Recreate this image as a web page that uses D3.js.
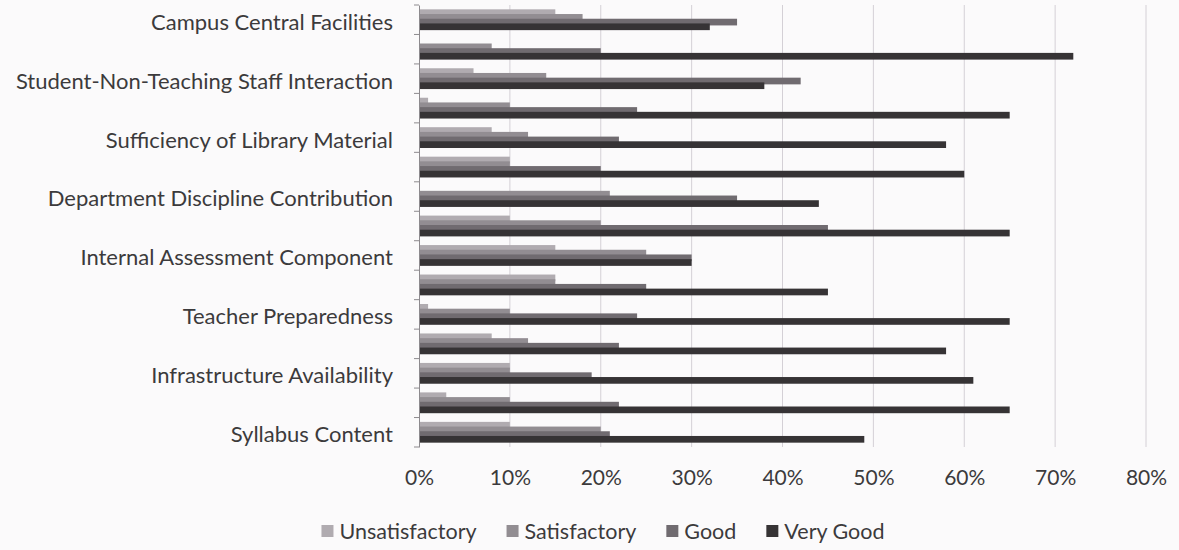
<!DOCTYPE html>
<html>
<head>
<meta charset="utf-8">
<script src="https://cdn.jsdelivr.net/npm/d3@7"></script>
<style>
  body { margin: 0; background: #fbfafb; }
  svg { display: block; }
  text { font-family: Lato, "Open Sans", sans-serif; fill: #3c3a3c; }
</style>
</head>
<body>
<div id="chart"></div>
<script>
// categories, top to bottom (only every other one gets a label, as in the source)
const categories = [
  "Campus Central Facilities", "cat2",
  "Student-Non-Teaching Staff Interaction", "cat4",
  "Sufficiency of Library Material", "cat6",
  "Department Discipline Contribution", "cat8",
  "Internal Assessment Component", "cat10",
  "Teacher Preparedness", "cat12",
  "Infrastructure Availability", "cat14",
  "Syllabus Content"
];
const labelled = [0, 2, 4, 6, 8, 10, 12, 14];

const seriesNames = ["Unsatisfactory", "Satisfactory", "Good", "Very Good"];

// percentages, same order as categories
const unsatisfactory = [15, 0, 6, 1, 8, 10, 0, 10, 15, 15, 1, 8, 10, 3, 10];
const satisfactory   = [18, 8, 14, 10, 12, 10, 21, 20, 25, 15, 10, 12, 10, 10, 20];
const good           = [35, 20, 42, 24, 22, 20, 35, 45, 30, 25, 24, 22, 19, 22, 21];
const veryGood       = [32, 72, 38, 65, 58, 60, 44, 65, 30, 45, 65, 58, 61, 65, 49];

const xTicks = [0, 0.1, 0.2, 0.3, 0.4, 0.5, 0.6, 0.7, 0.8];

const colors = ["#b0abb0", "#928d92", "#706b70", "#363335"];

const width = 1179, height = 550;
const margin = {top: 5, right: 33, bottom: 103, left: 419};

const svg = d3.select("#chart").append("svg")
  .attr("width", width)
  .attr("height", height);

const innerW = width - margin.left - margin.right;
const innerH = height - margin.top - margin.bottom;

const g = svg.append("g")
  .attr("transform", "translate(" + margin.left + "," + margin.top + ")");

const x = d3.scaleLinear().domain([0, 0.8]).range([0, innerW]);
const y = d3.scaleBand().domain(categories).range([0, innerH]);

// bars inside a group overlap like excel's series overlap
const barH = 6.7;
const sub = d3.scalePoint().domain(seriesNames).range([0, 14.1]);
const groupOffset = (y.bandwidth() - (14.1 + barH)) / 2;

// grid lines
g.append("g")
  .selectAll("line")
  .data(xTicks.slice(1))
  .join("line")
  .attr("x1", d => x(d)).attr("x2", d => x(d))
  .attr("y1", 0).attr("y2", innerH)
  .attr("stroke", "#d4d0d6")
  .attr("stroke-width", 1);

// bars
const allSeries = [unsatisfactory, satisfactory, good, veryGood];
allSeries.forEach((vals, si) => {
  g.append("g")
    .selectAll("rect")
    .data(vals)
    .join("rect")
    .attr("x", 0)
    .attr("y", (d, i) => y(categories[i]) + groupOffset + sub(seriesNames[si]))
    .attr("width", d => x(d / 100))
    .attr("height", barH)
    .attr("fill", colors[si]);
});

// category axis
const yAxis = d3.axisLeft(y)
  .tickValues(labelled.map(i => categories[i]))
  .tickSize(0)
  .tickPadding(26);
const ya = g.append("g").call(yAxis);
ya.select(".domain").attr("stroke", "#8d8a8e");
ya.selectAll("text").style("font-size", "22px").attr("dy", "0.45em");

// boundary tick marks on the category axis
g.append("g")
  .selectAll("line")
  .data(d3.range(categories.length + 1))
  .join("line")
  .attr("x1", -5).attr("x2", 0)
  .attr("y1", i => i * y.step()).attr("y2", i => i * y.step())
  .attr("stroke", "#8d8a8e");

// value axis labels
const xAxis = d3.axisBottom(x)
  .tickValues(xTicks)
  .tickFormat(d3.format(".0%"))
  .tickSize(0)
  .tickPadding(23);
const xa = g.append("g")
  .attr("transform", "translate(0," + innerH + ")")
  .call(xAxis);
xa.select(".domain").remove();
xa.selectAll("text").style("font-size", "21px");

// legend
const legend = svg.append("g");
let lx = 0;
seriesNames.forEach((name, i) => {
  const item = legend.append("g").attr("transform", "translate(" + lx + ",0)");
  item.append("rect")
    .attr("x", 0).attr("y", -6)
    .attr("width", 12).attr("height", 12)
    .attr("fill", colors[i]);
  const t = item.append("text")
    .attr("x", 18).attr("y", 0).attr("dy", "0.35em")
    .style("font-size", "21.5px")
    .text(name);
  lx += 18 + t.node().getComputedTextLength() + 30;
});
lx -= 30;
legend.attr("transform", "translate(" + (603 - lx / 2) + ",531)");
</script>
</body>
</html>
